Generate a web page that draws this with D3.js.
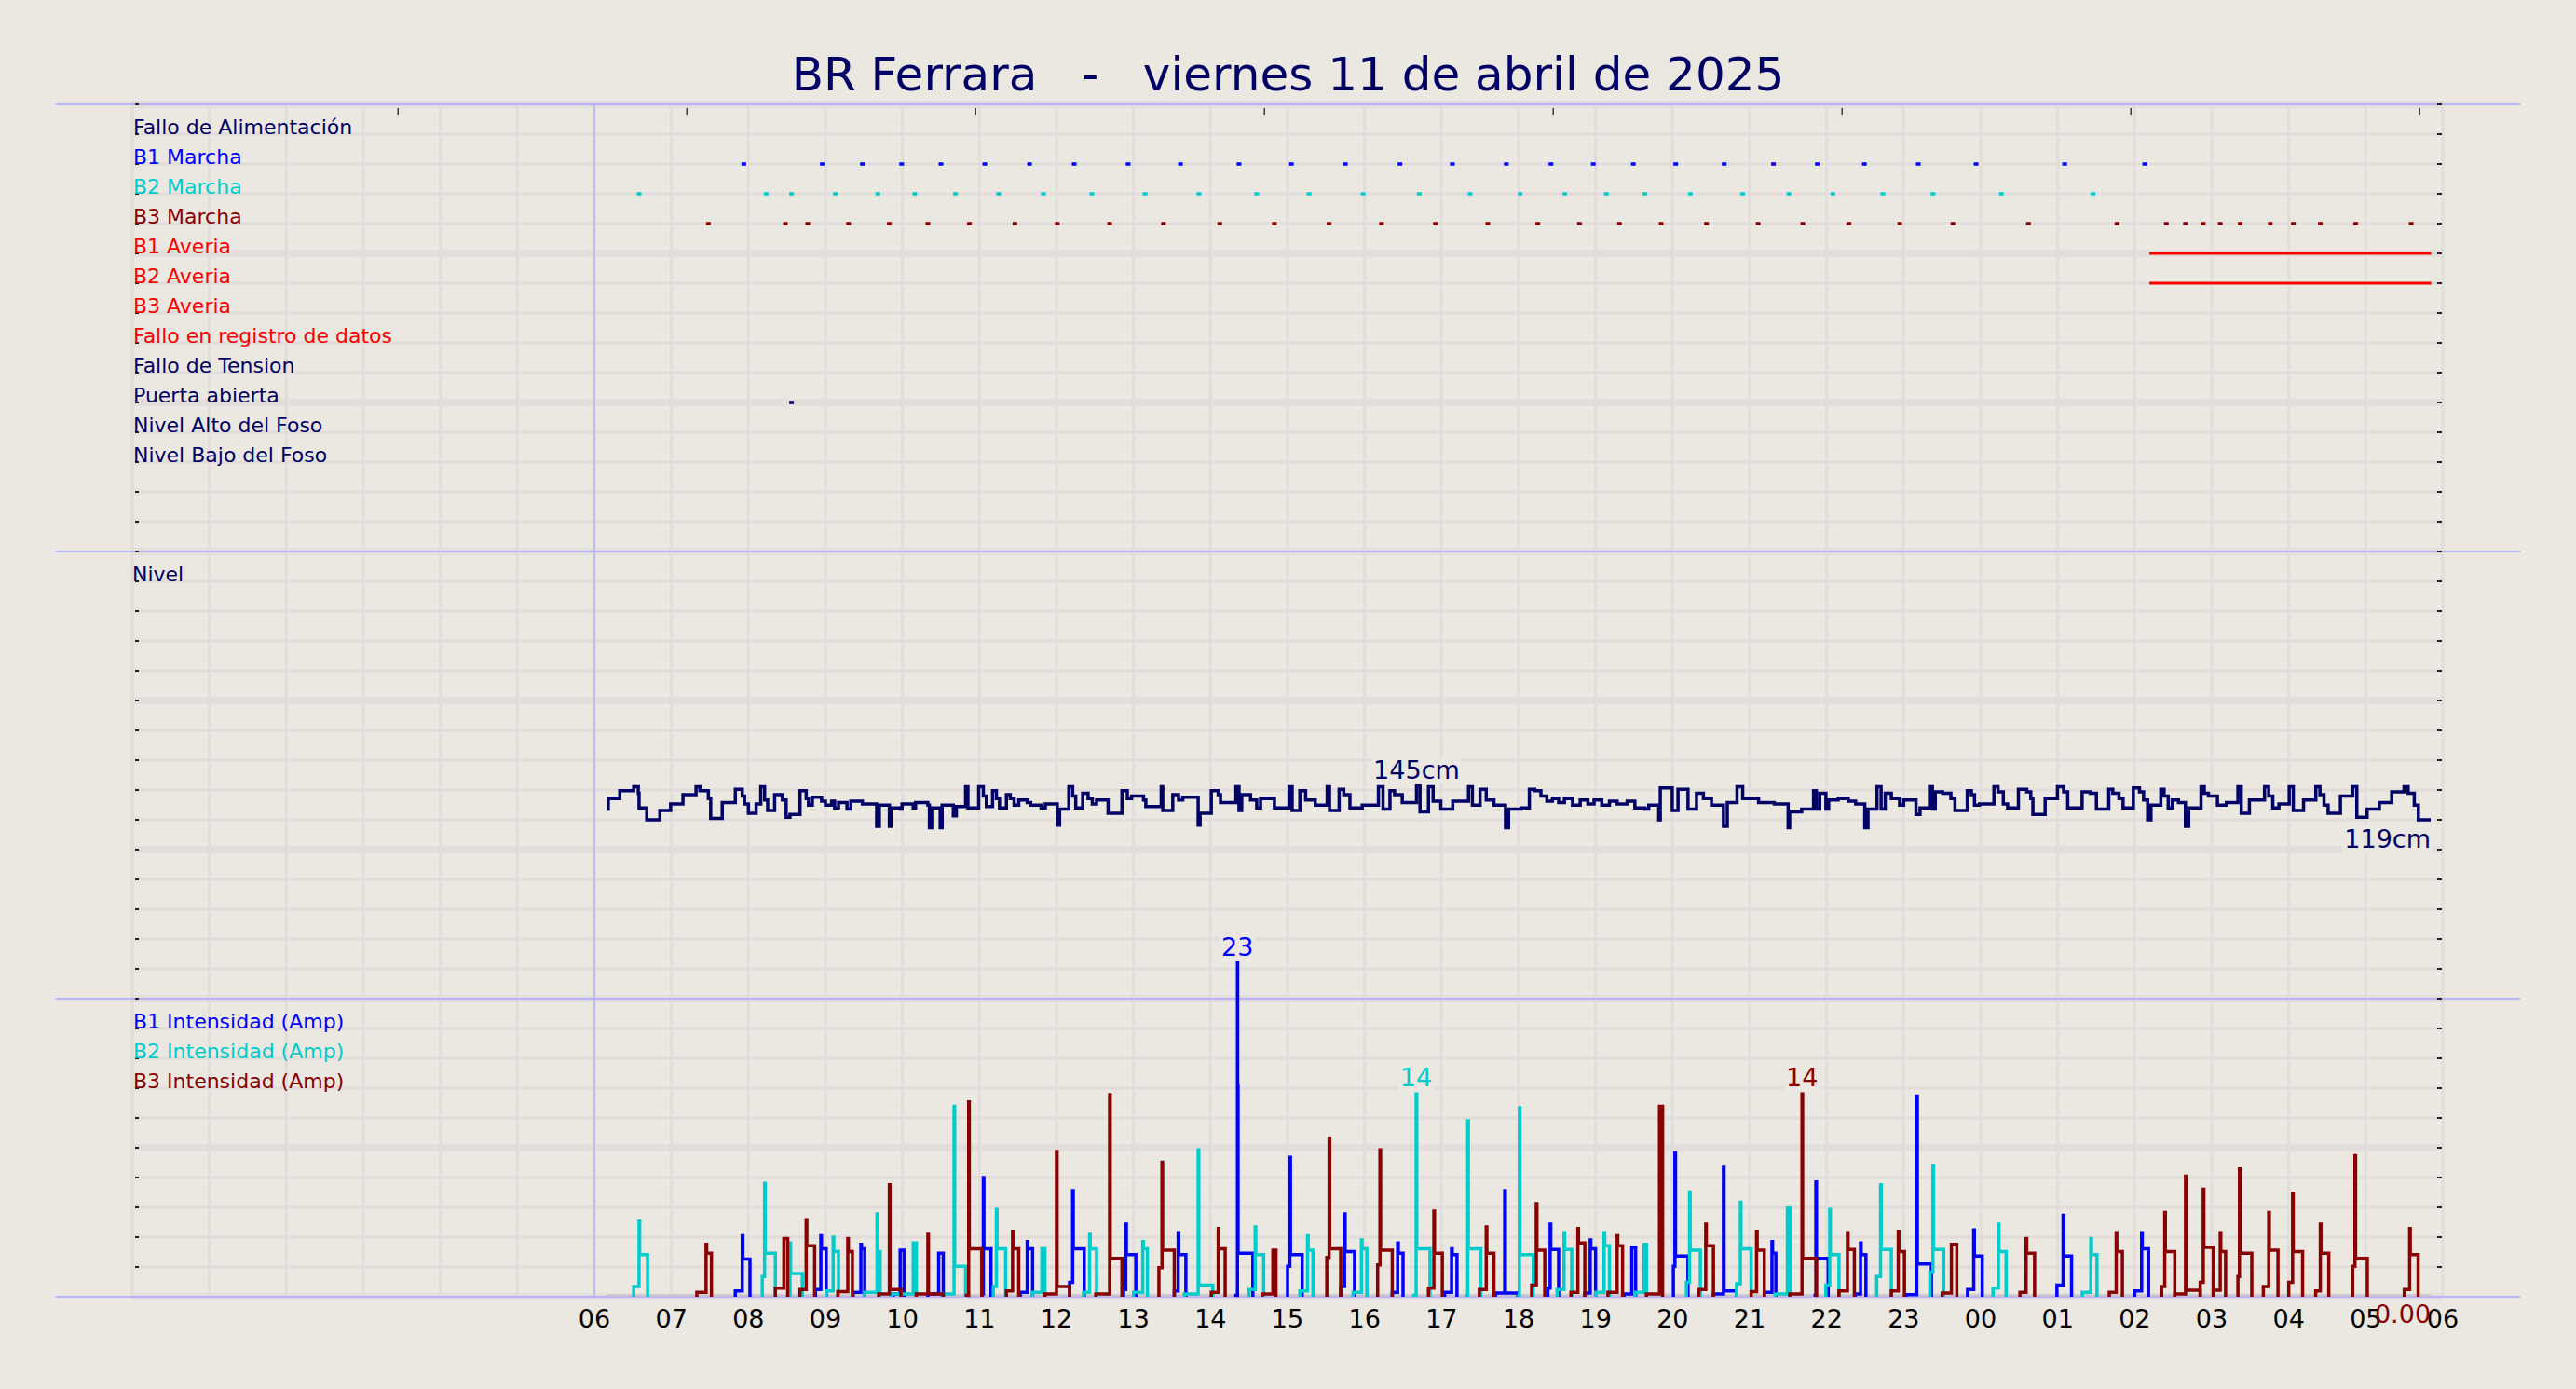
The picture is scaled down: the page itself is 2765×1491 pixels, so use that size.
<!DOCTYPE html>
<html><head><meta charset="utf-8">
<script src="https://cdn.jsdelivr.net/npm/d3@7"></script>
<style>
html,body{margin:0;padding:0;background:#ebe7e1;}
svg{display:block;}
text{font-family:"DejaVu Sans",sans-serif;}
</style></head><body>
<svg id="c" width="2765" height="1491"></svg>
<script>
// ---------------- DATA ----------------
const title = "BR Ferrara   -   viernes 11 de abril de 2025";
const hourTickValues = [6,7,8,9,10,11,12,13,14,15,16,17,18,19,20,21,22,23,24,25,26,27,28,29,30];
const hourLabels = ["06","07","08","09","10","11","12","13","14","15","16","17","18","19","20","21","22","23","00","01","02","03","04","05","06"];
const topTicks = [3.45,7.2,10.95,14.7,18.45,22.2,25.95,29.7];

const signalNames = ["Fallo de Alimentación","B1 Marcha","B2 Marcha","B3 Marcha","B1 Averia","B2 Averia","B3 Averia","Fallo en registro de datos","Fallo de Tension","Puerta abierta","Nivel Alto del Foso","Nivel Bajo del Foso"];
const signalRows = [39,38,37,36,35,34,33,32,31,30,29,28];
const nivelName = "Nivel"; const nivelRow = 24;
const ampNames = ["B1 Intensidad (Amp)","B2 Intensidad (Amp)","B3 Intensidad (Amp)"];
const ampRows = [9,8,7];
const panelBounds = [40,25,10,0];

// event marks (hours since 00:00)
const b1Marcha = [7.94,8.96,9.48,9.99,10.5,11.07,11.65,12.23,12.93,13.61,14.37,15.05,15.75,16.46,17.14,17.84,18.42,18.97,19.49,20.04,20.67,21.31,21.88,22.49,23.19,23.94,25.09,26.13];
const b2Marcha = [6.58,8.23,8.56,9.13,9.68,10.16,10.69,11.25,11.83,12.46,13.15,13.85,14.6,15.28,15.98,16.71,17.37,18.02,18.6,19.14,19.64,20.23,20.91,21.51,22.08,22.73,23.38,24.27,25.46];
const b3Marcha = [7.48,8.48,8.77,9.30,9.83,10.33,10.87,11.46,12.01,12.69,13.39,14.12,14.83,15.54,16.22,16.92,17.6,18.25,18.79,19.31,19.85,20.44,21.11,21.69,22.29,22.95,23.64,24.62,25.77,26.41,26.66,26.89,27.11,27.37,27.76,28.06,28.41,28.87,29.59];
const puertaAbierta = [8.56];
const b1Averia = [[26.19,29.85]];
const b2Averia = [[26.19,29.85]];

// Nivel [hour, cm]
const nivel = [
[6.17,127],[6.18,135],[6.33,141],[6.51,144],[6.57,139],[6.58,128],[6.68,119],[6.85,126],[6.99,131],[7.15,138],[7.32,144],[7.37,141],[7.48,135],[7.51,120],[7.66,132],[7.83,142],[7.92,137],[7.95,131],[8.0,124],[8.10,131],[8.16,144],[8.21,134],[8.25,126],[8.34,138],[8.44,134],[8.49,121],[8.54,123],[8.67,141],[8.75,135],[8.78,130],[8.83,136],[8.95,133],[9.0,130],[9.08,133],[9.12,128],[9.17,132],[9.28,127],[9.33,133],[9.48,131],[9.665,114],[9.70,130],[9.83,114],[9.85,128],[9.97,127],[9.995,131],[10.14,128],[10.17,132],[10.33,130],[10.35,113],[10.38,128],[10.49,113],[10.515,130],[10.66,122],[10.70,129],[10.82,144],[10.85,128],[10.99,144],[11.05,137],[11.09,129],[11.17,141],[11.22,135],[11.26,128],[11.35,138],[11.40,135],[11.45,130],[11.51,134],[11.62,132],[11.665,130],[11.80,128],[11.855,131],[12.01,115],[12.04,127],[12.16,144],[12.21,137],[12.25,128],[12.34,139],[12.41,135],[12.465,131],[12.52,134],[12.67,124],[12.85,141],[12.92,135],[12.975,137],[13.13,134],[13.16,129],[13.36,144],[13.38,126],[13.51,138],[13.585,134],[13.64,136],[13.84,115],[13.865,124],
[14.01,141],[14.10,138],[14.13,132],[14.33,144],[14.37,126],[14.405,138],[14.52,134],[14.60,128],[14.65,135],[14.83,128],[15.02,144],[15.06,126],[15.16,141],[15.235,134],[15.36,130],[15.515,144],[15.545,126],[15.67,142],[15.73,138],[15.81,128],[15.97,130],[16.18,144],[16.24,127],[16.33,141],[16.39,138],[16.49,132],[16.675,145],[16.72,125],[16.83,144],[16.89,133],[16.99,127],[17.145,133],[17.35,144],[17.40,130],[17.50,142],[17.58,134],[17.68,130],[17.83,113],[17.87,127],[18.035,128],[18.14,142],[18.21,141],[18.29,137],[18.367,133],[18.44,135],[18.52,132],[18.595,135],[18.70,130],[18.80,134],[18.90,131],[18.98,134],[19.08,130],[19.18,133],[19.28,131],[19.41,133],[19.51,128],[19.64,127],[19.69,130],[19.82,119],[19.84,143],[19.995,126],[20.07,142],[20.20,127],[20.31,139],[20.40,135],[20.505,130],[20.66,114],[20.71,132],[20.836,144],[20.91,135],[21.116,132],[21.32,131],[21.50,113],[21.52,125],[21.676,127],
[21.83,141],[21.866,127],[21.91,139],[21.99,127],[22.026,134],[22.15,135],[22.28,133],[22.377,131],[22.495,113],[22.537,127],[22.654,144],[22.707,127],[22.76,139],[22.84,135],[22.947,130],[23.0,134],[23.16,123],[23.213,128],[23.336,144],[23.373,127],[23.41,140],[23.506,139],[23.613,135],[23.666,126],[23.826,141],[23.879,138],[23.92,130],[23.985,131],[24.172,144],[24.225,140],[24.294,131],[24.35,128],[24.49,142],[24.598,140],[24.651,135],[24.678,123],[24.837,135],[24.997,144],[25.077,140],[25.13,128],[25.317,140],[25.423,139],[25.503,127],[25.663,142],[25.716,139],[25.796,135],[25.849,128],[25.982,143],[26.062,140],[26.115,134],[26.168,119],[26.211,130],[26.339,142],[26.381,137],[26.435,128],[26.488,134],[26.568,132],[26.658,114],[26.701,128],[26.861,144],[26.903,139],[26.957,137],[27.074,130],[27.191,132],[27.34,144],[27.383,124],[27.489,134],[27.686,144],[27.739,137],[27.793,128],[27.872,131],[28.006,144],[28.059,126],[28.192,134],[28.352,144],[28.405,138],[28.458,130],[28.511,124],[28.671,137],[28.831,144],[28.884,121],[29.017,127],[29.177,132],[29.337,140],[29.497,144],[29.55,139],[29.63,130],[29.683,119],[29.843,119]
];

// Pump runs: [start, preAmp, spikeTime, peakAmp, plateauAmp, end, (peak2)]
const b1Runs = [
[7.83,0.4,7.92,4.2,2.6,8.02],[8.87,0.5,8.94,4.2,3.3,9.01],[9.36,0.3,9.46,3.6,3.3,9.51],[9.88,0.2,9.97,3.2,3.2,10.02],
[10.33,0.2,10.47,3.0,3.0,10.53],[11.03,0.2,11.05,8.2,3.3,11.15],[11.53,0.3,11.62,3.8,3.3,11.69],[12.17,1.0,12.21,7.3,3.3,12.36],
[12.87,0.5,12.90,5.0,2.9,13.03],[13.53,0.4,13.58,4.4,2.9,13.68],[14.33,0.1,14.35,23,3.0,14.55,14.5],[15.0,2.1,15.03,9.6,2.9,15.19],
[15.69,0.7,15.74,5.7,3.1,15.87],[16.36,0.3,16.43,3.7,3.0,16.5],[17.04,0.3,17.13,3.3,2.9,17.2],[17.7,0.25,17.82,7.3,0.25,17.99],
[18.38,0.6,18.41,5.0,3.25,18.52],[18.86,0.25,18.93,3.9,3.3,19.0],[19.37,0.2,19.47,3.4,3.4,19.52],[20.01,2.1,20.03,9.9,2.8,20.2],
[20.53,0.2,20.66,8.9,0.4,20.83],[21.19,0.3,21.29,3.8,3.0,21.34],[21.85,0.1,21.86,7.9,2.65,22.02],[22.37,0.2,22.44,3.7,2.9,22.51],
[23.03,0.15,23.17,13.8,2.26,23.36],[23.83,0.5,23.91,4.6,2.8,24.02],[24.99,0.8,25.07,5.6,2.8,25.18],[26.0,0.4,26.09,4.4,3.3,26.18]
];
const b2Runs = [
[6.51,0.7,6.58,5.2,2.9,6.69],[8.18,1.4,8.21,7.8,3.0,8.35],[8.52,0.1,8.54,3.7,1.6,8.70],[9.01,0.4,9.10,4.1,3.1,9.17],
[9.51,0.3,9.67,5.7,3.1,9.71],[9.85,0.2,10.14,3.7,3.7,10.18],[10.51,0.2,10.67,13.1,2.1,10.82],[11.18,0.7,11.22,6.0,3.3,11.34],
[11.69,0.3,11.81,3.3,3.3,11.85],[12.35,0.3,12.43,4.3,3.3,12.52],[13.0,0.3,13.12,3.8,3.3,13.18],[13.66,0.2,13.84,10.1,0.8,14.03],
[14.50,0.5,14.58,4.8,2.9,14.69],[15.16,0.4,15.26,4.2,3.2,15.33],[15.85,0.3,15.96,3.9,3.3,16.03],[16.64,0.1,16.67,14,3.3,16.85],
[17.33,0.1,17.34,12.1,3.3,17.51],[18.0,0.1,18.01,13.0,2.9,18.19],[18.5,0.5,18.59,4.4,3.25,18.69],[19.0,0.3,19.11,4.4,3.5,19.18],
[19.51,0.3,19.63,3.6,3.6,19.66],[20.18,1.0,20.22,7.2,3.2,20.36],[20.83,0.9,20.88,6.5,3.3,21.02],[21.33,0.2,21.49,6.1,6.1,21.53],
[21.99,0.8,22.04,6.0,2.9,22.16],[22.65,1.4,22.70,7.7,3.25,22.84],[23.34,1.7,23.38,9.0,3.25,23.52],[24.16,0.6,24.23,5.0,3.1,24.33],
[25.32,0.3,25.43,4.0,2.9,25.51]
];
const b3Runs = [
[7.33,0.3,7.45,3.6,3.0,7.52],[8.35,0.6,8.46,4.0,4.0,8.51],[8.67,0.5,8.75,5.3,3.5,8.86],[9.16,0.35,9.29,4.0,3.1,9.35],
[9.69,0.2,9.83,7.7,0.5,9.98],[10.18,0.2,10.33,4.3,0.2,10.53],[10.83,0.1,10.86,13.4,3.3,11.03],[11.35,0.4,11.43,4.5,3.3,11.51],
[11.85,0.2,12.0,10.0,0.7,12.17],[12.51,0.2,12.69,13.9,2.65,12.85],[13.33,2.0,13.37,9.25,3.2,13.53],[14.01,0.3,14.1,4.7,3.3,14.19],
[14.67,0.2,14.81,3.2,3.2,14.85],[15.51,2.7,15.54,10.9,3.3,15.69],[16.17,2.2,16.2,10.1,3.2,16.36],[16.83,0.6,16.90,5.9,3.0,17.01],
[17.49,0.5,17.58,4.8,3.0,17.68],[18.17,0.8,18.23,6.4,3.2,18.34],[18.68,0.3,18.77,4.7,3.7,18.86],[19.16,0.3,19.28,4.2,3.5,19.35],
[19.66,0.2,19.83,13.1,13.1,19.87],[20.34,0.5,20.43,5.0,3.5,20.53],[21.02,0.35,21.09,4.5,3.2,21.19],[21.52,0.2,21.68,14,2.65,21.87],
[22.16,0.4,22.27,4.4,3.25,22.36],[22.84,0.4,22.93,4.5,3.1,23.01],[23.5,0.25,23.62,3.6,3.6,23.69],[24.51,0.3,24.59,4.0,3.0,24.70],
[25.67,0.3,25.76,4.4,3.1,25.84],[26.35,0.7,26.39,5.8,3.1,26.52],[26.52,0.2,26.66,8.3,0.45,26.85],[26.85,1.0,26.89,7.4,3.4,27.02],
[27.02,0.45,27.11,4.4,3.1,27.18],[27.34,1.4,27.36,8.8,3.0,27.52],[27.67,0.7,27.74,5.8,3.2,27.86],[28.0,1.0,28.05,7.1,3.1,28.18],
[28.35,0.4,28.41,5.0,3.0,28.52],[28.83,2.1,28.86,9.7,2.65,29.02],[29.5,0.5,29.57,4.7,2.9,29.68]
];
const b3Current = {h:29.48, value:0.00};

// ---------------- STYLE ----------------
const C = {bg:"#ebe7e1", grid:"#e2dcdb", lav:"#b4b4f6", navy:"#000066", blue:"#0000ff", cyan:"#00cccc", dred:"#880000", red:"#ff0000"};
const signalColors = [C.navy,C.blue,C.cyan,C.dred,C.red,C.red,C.red,C.red,C.navy,C.navy,C.navy,C.navy];
const ampColors = [C.blue,C.cyan,C.dred];

// ---------------- SCALES ----------------
const W=2765,H=1491;
const x = d3.scaleLinear().domain([0,30]).range([142,2622]);
const row = d3.scaleLinear().domain([0,40]).range([1392,112]);
const yAmp = d3.scaleLinear().domain([0,20.5]).range([1392,1072]);
const yNivel = d3.scaleLinear().domain([119,145]).range([880,843]);

const svg = d3.select('#c');
svg.append('rect').attr('width',W).attr('height',H).attr('fill',C.bg);

// grid
const grid = svg.append('g');
grid.selectAll('line.h').data(d3.range(0,41)).join('line')
  .attr('x1',x(0)).attr('x2',x(30)).attr('y1',d=>row(d)).attr('y2',d=>row(d))
  .attr('stroke',C.grid).attr('stroke-width',d=>d%5===0?7:3);
grid.selectAll('line.v').data(d3.range(0,31)).join('line')
  .attr('x1',d=>x(d)).attr('x2',d=>x(d)).attr('y1',row(40)).attr('y2',row(0))
  .attr('stroke',C.grid).attr('stroke-width',3);

// panel separators
svg.append('g').selectAll('line').data(panelBounds).join('line')
  .attr('x1',60).attr('x2',2705).attr('y1',d=>row(d)).attr('y2',d=>row(d))
  .attr('stroke',C.lav).attr('stroke-width',2);
svg.append('line').attr('x1',x(6)).attr('x2',x(6)).attr('y1',row(40)).attr('y2',row(0))
  .attr('stroke',C.lav).attr('stroke-width',1.5);

// axis ticks
const tk = svg.append('g').attr('fill','#222');
tk.selectAll('rect.l').data(d3.range(1,41)).join('rect').attr('x',145).attr('y',d=>row(d)-1).attr('width',4).attr('height',2);
tk.selectAll('rect.r').data(d3.range(1,41)).join('rect').attr('x',2616).attr('y',d=>row(d)-1).attr('width',5).attr('height',2);
svg.append('g').selectAll('line').data(topTicks).join('line')
  .attr('x1',d=>x(d)).attr('x2',d=>x(d)).attr('y1',116).attr('y2',123).attr('stroke','#111').attr('stroke-width',1.2);

// title
svg.append('text').attr('x',W/2).attr('y',97).attr('text-anchor','middle').attr('font-size',50)
  .attr('fill',C.navy).style('white-space','pre').text(title);

// labels
const lab = svg.append('g').attr('font-size',22);
lab.selectAll('text.s').data(signalNames).join('text').attr('x',143).attr('y',(d,i)=>row(signalRows[i]))
  .attr('fill',(d,i)=>signalColors[i]).text(d=>d);
lab.append('text').attr('x',142).attr('y',row(nivelRow)).attr('fill',C.navy).text(nivelName);
lab.selectAll('text.a').data(ampNames).join('text').attr('x',143).attr('y',(d,i)=>row(ampRows[i]))
  .attr('fill',(d,i)=>ampColors[i]).text(d=>d);

// event markers
function marks(arr,r,color){
  svg.append('g').selectAll('rect').data(arr).join('rect')
    .attr('x',d=>x(d)-2.5).attr('y',row(r)-1.75).attr('width',5).attr('height',3.5).attr('fill',color);
}
marks(b1Marcha,38,C.blue); marks(b2Marcha,37,C.cyan); marks(b3Marcha,36,C.dred); marks(puertaAbierta,30,C.navy);
function spans(arr,r,color){
  svg.append('g').selectAll('line').data(arr).join('line')
    .attr('x1',d=>x(d[0])).attr('x2',d=>x(d[1])).attr('y1',row(r)).attr('y2',row(r))
    .attr('stroke',color).attr('stroke-width',3);
}
spans(b1Averia,35,C.red); spans(b2Averia,34,C.red);

// zero line of current series
svg.append('line').attr('x1',x(6.15)).attr('x2',x(29.85)).attr('y1',1390.5).attr('y2',1390.5)
  .attr('stroke','#c9c4c8').attr('stroke-width',2);

function labelBox(t){
  const b = t.node().getBBox();
  d3.select(t.node().parentNode).insert('rect',()=>t.node())
    .attr('x',b.x-2).attr('y',b.y+2).attr('width',b.width+4).attr('height',b.height-2).attr('fill',C.bg);
}

// nivel line
const lineN = d3.line().x(d=>x(d[0])).y(d=>yNivel(d[1])).curve(d3.curveStepAfter);
svg.append('path').datum(nivel).attr('d',lineN).attr('fill','none').attr('stroke',C.navy).attr('stroke-width',3.5);
const nMax = d3.greatest(nivel,d=>d[1]);
const nLast = nivel[nivel.length-1];
const gN = svg.append('g').attr('font-size',27).attr('fill',C.navy);
labelBox(gN.append('text').attr('x',x(nMax[0])).attr('y',yNivel(nMax[1])-7).attr('text-anchor','middle').text(nMax[1]+"cm"));
labelBox(gN.append('text').attr('x',x(nLast[0])).attr('y',yNivel(nLast[1])+30).attr('text-anchor','end').text(nLast[1]+"cm"));

// intensity runs
const lineA = d3.line().x(d=>x(d[0])).y(d=>yAmp(d[1])).curve(d3.curveStepAfter);
function runPts(r){
  const p=[[r[0],0],[r[0],r[1]],[r[2],r[3]]];
  if(r.length>6) p.push([r[2]+0.003,r[6]]);
  p.push([r[2]+0.008,r[4]],[r[5],0]);
  return p;
}
[[b1Runs,C.blue],[b2Runs,C.cyan],[b3Runs,C.dred]].forEach(([runs,col])=>{
  const g = svg.append('g');
  g.selectAll('path').data(runs).join('path').attr('d',r=>lineA(runPts(r)))
    .attr('fill','none').attr('stroke',col).attr('stroke-width',3.5).attr('stroke-linejoin','miter');
});
const gV = svg.append('g').attr('font-size',27);
[[b1Runs,C.blue],[b2Runs,C.cyan],[b3Runs,C.dred]].forEach(([runs,col])=>{
  let best=null; runs.forEach(r=>{ if(!best || r[3]>=best[3]) best=r; });
  labelBox(gV.append('text').attr('x',x(best[2])).attr('y',yAmp(best[3])-7).attr('text-anchor','middle')
    .attr('fill',col).text(d3.format('d')(best[3])));
});

// hour labels
svg.append('g').attr('font-size',27).attr('fill','#000').selectAll('text').data(hourTickValues).join('text')
  .attr('x',d=>x(d)).attr('y',1425).attr('text-anchor','middle').text((d,i)=>hourLabels[i]);
svg.append('text').attr('x',x(b3Current.h)).attr('y',1420).attr('text-anchor','middle').attr('font-size',27)
  .attr('fill',C.dred).text(d3.format('.2f')(b3Current.value));
</script>
</body></html>
